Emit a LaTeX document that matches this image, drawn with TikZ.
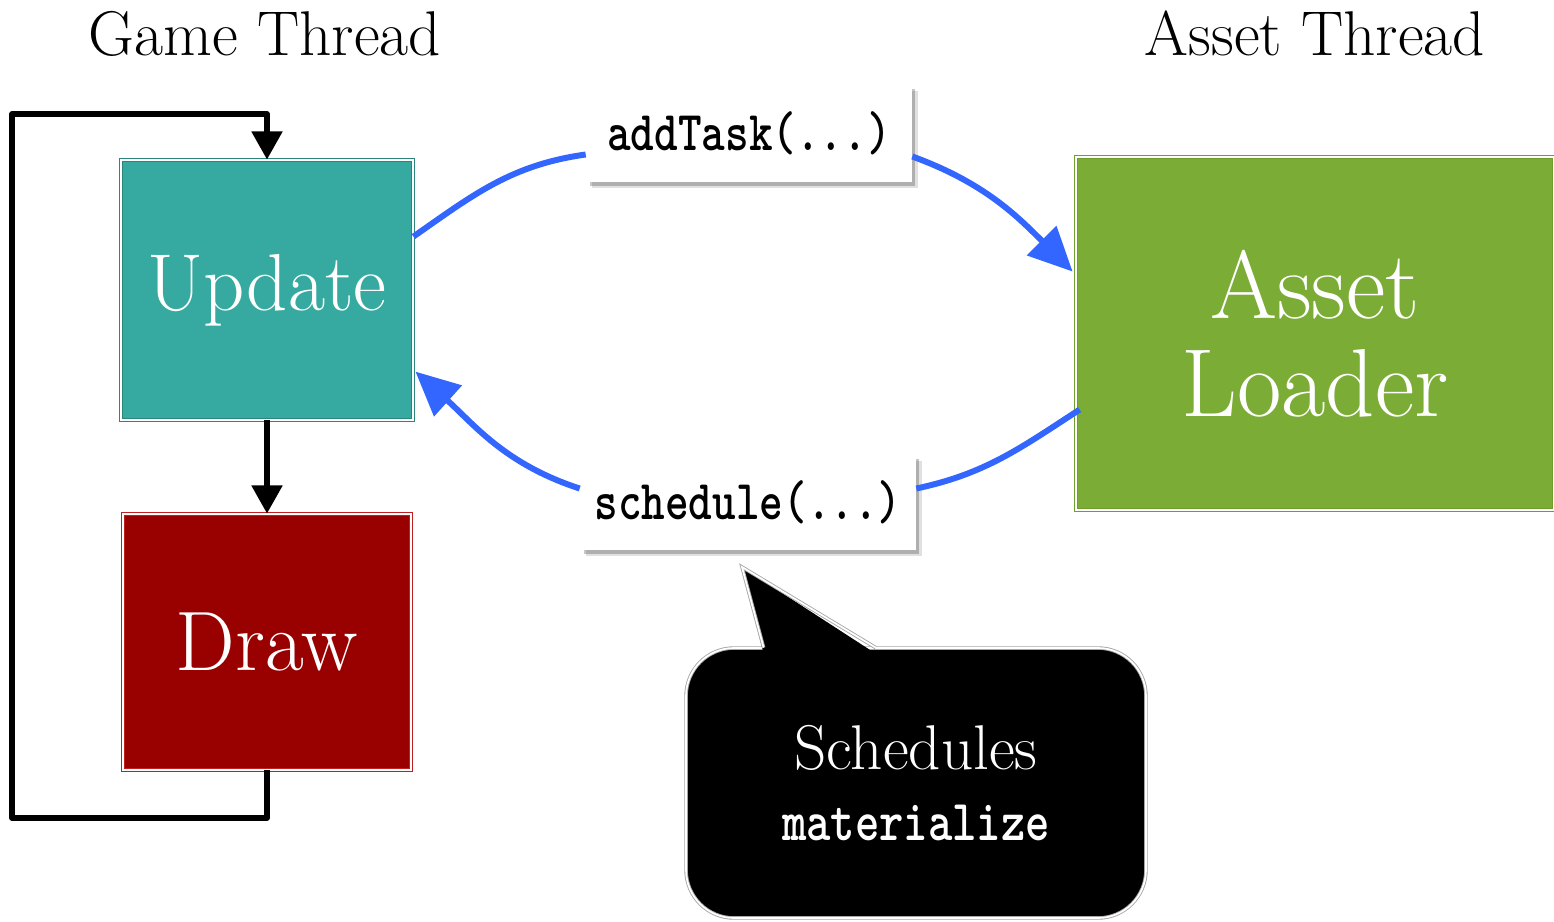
\documentclass[tikz,border=0pt]{standalone}
\usepackage{graphicx}
\usetikzlibrary{arrows.meta,calc,shadows}
\definecolor{tealfill}{HTML}{36AAA0}
\definecolor{tealline}{HTML}{2A857C}
\definecolor{drawfill}{HTML}{990000}
\definecolor{drawline}{HTML}{C02020}
\definecolor{assetfill}{HTML}{7BAC35}
\definecolor{assetline}{HTML}{6E9E2C}
\definecolor{flowblue}{HTML}{3366FF}
\newcommand{\tw}[2]{{\fontsize{#1}{40}\selectfont\ttfamily\bfseries\scalebox{0.8}[1]{#2}}}
\tikzset{
  box/.style={rectangle, text=white, align=center, line width=0.5pt, double distance=0.9pt, double=white},
  lbl/.style={rectangle, fill=white,
     drop shadow={shadow xshift=3.2pt, shadow yshift=-3.2pt, fill=black, opacity=0.12},
     drop shadow={shadow xshift=2pt, shadow yshift=-2pt, fill=black, opacity=0.22}},
  title/.style={font=\fontsize{36}{40}\selectfont, anchor=base},
  loopline/.style={line width=3.1pt, line join=round, -{Triangle[length=16pt,width=17pt]}},
  flow/.style={draw=flowblue, line width=3.4pt},
  flowarrow/.style={flow, -{Triangle[length=25pt,width=23pt]}},
}
\begin{document}
\begin{tikzpicture}[x=0.02cm,y=-0.02cm]
\useasboundingbox (0,0) rectangle (1554,922);

\node[title] (gt) at (265,56) {Game Thread};
\node[title] (at) at (1315,56) {Asset Thread};

\node[box, fill=tealfill, draw=tealline, minimum width=5.84cm, minimum height=5.2cm,
      font=\fontsize{46}{50}\selectfont] (upd) at (267,290) {Update};
\node[box, fill=drawfill, draw=drawline, minimum width=5.76cm, minimum height=5.12cm,
      font=\fontsize{48}{50}\selectfont] (drw) at (267,642) {Draw};
\node[box, fill=assetfill, draw=assetline, minimum width=9.56cm, minimum height=7.06cm,
      font=\fontsize{55}{56}\selectfont] (ast) at (1315,333.5) {Asset\\Loader};

\node[lbl, minimum width=6.52cm, minimum height=1.94cm] (lab1) at (749,133.5) {\tw{32}{addTask(...)}};
\node[lbl, minimum width=6.72cm, minimum height=1.9cm] (lab2) at (748,502.5) {\tw{32}{schedule(...)}};

% game loop
\coordinate (lb) at (267,818);
\coordinate (lbl) at (12,818);
\coordinate (ltl) at (12,114);
\coordinate (lt) at (267,114);
\draw[loopline] (drw.south) -- (lb) -- (lbl) -- (ltl) -- (lt) -- (upd.north);
\draw[loopline] (upd.south) -- (drw.north);

% blue flows
\draw[flow] ($(upd.north east)+(0,77)$) to[out=35,in=188] ($(lab1.west)+(0,21)$);
\draw[flowarrow] ($(lab1.east)+(0,23)$) to[out=-20,in=135] ($(ast.north west)+(-3,115)$);
\draw[flow] ($(ast.north west)+(4,253)$) to[out=213,in=12] ($(lab2.east)+(0,-14)$);
\draw[flowarrow] ($(lab2.west)+(0,-14)$) to[out=162,in=-42] ($(upd.north east)+(2,212)$);

% callout
\node[rectangle, rounded corners=0.96cm, fill=black, draw=gray!70, double=white,
      line width=0.5pt, double distance=1pt, minimum width=9.2cm, minimum height=5.4cm,
      text=white, align=center, font=\fontsize{36}{40}\selectfont] (call) at (916,783)
      {Schedules\\\tw{33}{materialize}};
\coordinate (tipA) at ($(call.north west)+(78,0)$);
\coordinate (tip) at (742,567);
\coordinate (tipB) at ($(call.north west)+(190,0)$);
\fill[black] ($(tipA)+(0,6)$) -- (tip) -- ($(tipB)+(0,6)$) -- cycle;
\draw[draw=gray!70, double=white, line width=0.5pt, double distance=1pt, line join=miter]
  (tipA) -- (tip) -- (tipB);
\end{tikzpicture}
\end{document}
